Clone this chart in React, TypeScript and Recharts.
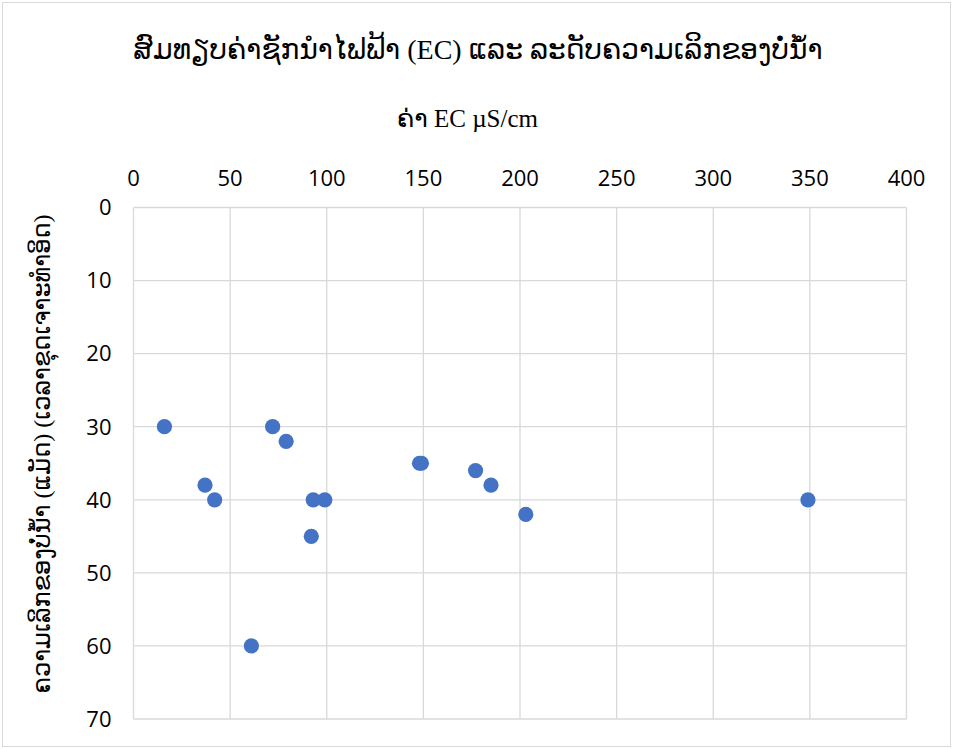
import React from 'react';
import { ScatterChart, Scatter, XAxis, YAxis, CartesianGrid } from 'recharts';

const ecValues = [16, 37, 42, 61, 72, 79, 93, 92, 99, 148, 149, 177, 185, 203, 349];
const depthValues = [30, 38, 40, 60, 30, 32, 40, 45, 40, 35, 35, 36, 38, 42, 40];
const xTicks = [0, 50, 100, 150, 200, 250, 300, 350, 400];
const yTicks = [0, 10, 20, 30, 40, 50, 60, 70];

const titleText = 'ສົມທຽບຄ່າຊັກນຳໄຟຟ້າ (EC) ແລະ ລະດັບຄວາມເລິກຂອງບໍ່ນ້ຳ';
const xLabelText = 'ຄ່າ EC µS/cm';
const yLabelText = 'ຄວາມເລິກຂອງບໍ່ນ້ຳ (ແມັດ) (ເວລາຂຸດເຈາະທຳອິດ)';

const data = ecValues.map((ec, i) => ({ ec, depth: depthValues[i] }));

const serif = "'Liberation Serif', 'DejaVu Sans', serif";
const tickFont = { fontFamily: "'Open Sans', sans-serif", fontSize: 22, fill: '#000' };

const Dot = (props: any) => {
  const { cx, cy } = props;
  if (cx == null || cy == null) return null;
  return <circle cx={cx} cy={cy} r={7.6} fill="#4472C4" />;
};

export default function App() {
  return (
    <div style={{ position: 'absolute', left: 0, top: 0, width: 953, height: 749, background: '#fff', overflow: 'hidden' }}>
      <div style={{ position: 'absolute', left: 2, top: 2, width: 947, height: 743, border: '1px solid #d9d9d9' }} />
      <div style={{ position: 'absolute', left: 0, top: 30, width: 956, textAlign: 'center', fontFamily: serif, fontSize: 28, lineHeight: '40px', color: '#000' }}>
        {titleText}
      </div>
      <div style={{ position: 'absolute', left: 0, top: 103, width: 935, textAlign: 'center', fontFamily: serif, fontSize: 25, lineHeight: '32px', color: '#000' }}>
        {xLabelText}
      </div>
      <div style={{ position: 'absolute', left: 42, top: 454, width: 0, height: 0 }}>
        <div style={{ position: 'absolute', left: -300, top: -16, width: 600, textAlign: 'center', transform: 'rotate(-90deg)', fontFamily: serif, fontSize: 24, lineHeight: '32px', whiteSpace: 'nowrap', color: '#000' }}>
          {yLabelText}
        </div>
      </div>
      <div style={{ position: 'absolute', left: 0, top: 0 }}>
        <ScatterChart width={953} height={749} margin={{ top: 167.5, right: 46.5, bottom: 30, left: 73.5 }}>
          <CartesianGrid stroke="#d9d9d9" strokeWidth={1.3} />
          <XAxis
            type="number"
            dataKey="ec"
            orientation="top"
            domain={[0, 400]}
            ticks={xTicks}
            height={40}
            axisLine={false}
            tickLine={false}
            tickSize={0}
            tickMargin={22}
            tick={tickFont}
            interval={0}
          />
          <YAxis
            type="number"
            dataKey="depth"
            reversed
            domain={[0, 70]}
            ticks={yTicks}
            width={60}
            axisLine={false}
            tickLine={false}
            tickSize={0}
            tickMargin={22}
            tick={tickFont}
            interval={0}
          />
          <Scatter data={data} fill="#4472C4" shape={Dot} isAnimationActive={false} />
        </ScatterChart>
      </div>
    </div>
  );
}
